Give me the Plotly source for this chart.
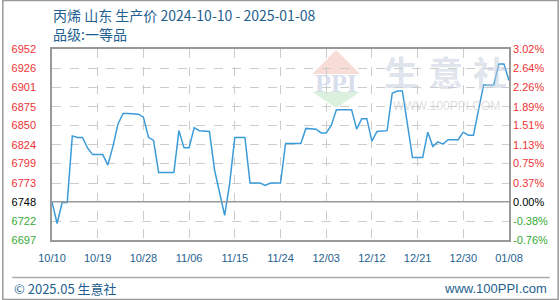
import pandas as pd
import plotly.graph_objects as go

# ---- data ----
start_date = "2024-10-10"
end_date = "2025-01-08"
prices = [
    6748, 6719, 6747, 6747, 6836, 6834, 6834, 6820, 6811, 6811,
    6811, 6797, 6822, 6852, 6866, 6866, 6866, 6865, 6861, 6834,
    6830, 6787, 6787, 6787, 6787, 6843, 6820, 6820, 6847, 6843,
    6843, 6842, 6791, 6760, 6730, 6773, 6834, 6834, 6834, 6773,
    6773, 6773, 6770, 6773, 6773, 6773, 6826, 6826, 6826, 6826,
    6846, 6846, 6845, 6840, 6840, 6850, 6871, 6871, 6871, 6871,
    6845, 6859, 6859, 6829, 6842, 6843, 6843, 6893, 6896, 6896,
    6854, 6807, 6807, 6807, 6841, 6822, 6828, 6825, 6831, 6831,
    6831, 6841, 6837, 6837, 6870, 6904, 6904, 6904, 6932, 6932,
    6910,
]
dates = pd.date_range(start_date, end_date, freq="D")
base_price = 6748
left_labels = ["6952", "6926", "6901", "6875", "6850", "6824", "6799", "6773", "6748", "6722", "6697"]
right_labels = ["3.02%", "2.64%", "2.26%", "1.89%", "1.51%", "1.13%", "0.75%", "0.37%", "0.00%", "-0.38%", "-0.76%"]
title_line1 = "丙烯 山东 生产价 2024-10-10 - 2025-01-08"
title_line2 = "品级:一等品"
footer_left = "© 2025.05 生意社"
footer_right = "www.100PPI.com"
watermark_chars = ["生", "意", "社"]
watermark_url = "WWW.100PPI.COM"
watermark_logo = "PPI"

# ---- styling ----
W, H = 560, 300
L, R, T, B = 50, 510, 49, 240
RED, GREEN, BLACK = "#ee3333", "#33aa33", "#000000"
BLUE_TXT = "#1f5f8f"
LINE = "#3b9bd8"


def px(x):
    return (x - L) / (R - L)


def py(y):
    return (B - y) / (B - T)


def colored(labels, vals):
    out = []
    for lab, v in zip(labels, vals):
        c = RED if v > base_price else (BLACK if v == base_price else GREEN)
        out.append(f'<span style="color:{c}">{lab}</span>')
    return out


tick_vals = [float(t) for t in left_labels]

fig = go.Figure()
fig.add_trace(go.Scatter(x=dates, y=prices, mode="lines",
                         line=dict(color=LINE, width=1.5), hoverinfo="skip",
                         showlegend=False))
fig.add_trace(go.Scatter(x=dates, y=prices, mode="lines", yaxis="y2",
                         line=dict(color="rgba(0,0,0,0)", width=0), hoverinfo="skip",
                         showlegend=False))

font_num = "Liberation Sans, Arial, sans-serif"
fig.update_layout(
    width=W, height=H,
    margin=dict(l=L, r=W - R, t=T, b=H - B),
    paper_bgcolor="white", plot_bgcolor="white",
    xaxis=dict(
        type="date",
        range=[dates[0], dates[-1]],
        tick0=dates[0], dtick=9 * 86400000, tickformat="%m/%d",
        showgrid=True, gridcolor="#cccccc", griddash="dash", gridwidth=1,
        showline=True, mirror=True, linecolor="#999999", linewidth=1.5,
        ticks="", ticklabelstandoff=7,
        tickfont=dict(family=font_num, size=11, color=BLUE_TXT),
        zeroline=False, fixedrange=True,
    ),
    yaxis=dict(
        range=[6697, 6952],
        tickvals=tick_vals, ticktext=colored(left_labels, tick_vals),
        showgrid=True, gridcolor="#cccccc", griddash="dash", gridwidth=1,
        showline=True, mirror=True, linecolor="#999999", linewidth=1.5,
        ticks="", ticklabelstandoff=12,
        tickfont=dict(family=font_num, size=11, color=RED),
        zeroline=False,
    ),
    yaxis2=dict(
        range=[6697, 6952], overlaying="y", side="right",
        tickvals=tick_vals, ticktext=colored(right_labels, tick_vals),
        showgrid=False, showline=False, ticks="", ticklabelstandoff=3,
        tickfont=dict(family=font_num, size=11, color=RED),
        zeroline=False,
    ),
)

shapes = []
# baseline at base price
shapes.append(dict(type="line", xref="paper", yref="y", x0=0, x1=1, y0=base_price, y1=base_price,
                   line=dict(color="#999999", width=1.5), layer="above"))
# footer separator
shapes.append(dict(type="line", xref="paper", yref="paper", x0=px(10), x1=px(551), y0=py(277.5), y1=py(277.5),
                   line=dict(color="#aaaaaa", width=1.5)))
# outer frame
shapes.append(dict(type="rect", xref="paper", yref="paper", x0=px(0.5), x1=px(559.5), y0=py(299.5), y1=py(0.5),
                   line=dict(color="#999999", width=1.5)))
# watermark logo triangles
shapes.append(dict(type="path", xref="paper", yref="paper", layer="below",
                   path=f"M {px(312)} {py(74)} L {px(336)} {py(50)} L {px(360)} {py(74)} Z",
                   fillcolor="#f8dcd6", line=dict(width=0)))
shapes.append(dict(type="path", xref="paper", yref="paper", layer="below",
                   path=f"M {px(312)} {py(92)} L {px(336)} {py(108)} L {px(360)} {py(92)} Z",
                   fillcolor="#dcf0de", line=dict(width=0)))
fig.update_layout(shapes=shapes)

cjk = "Noto Sans CJK SC, sans-serif"
ann = []
ann.append(dict(text=title_line1, xref="paper", yref="paper", x=px(49), y=py(15),
                xanchor="left", yanchor="middle", showarrow=False,
                font=dict(family=cjk, size=14, color=BLUE_TXT)))
ann.append(dict(text=title_line2, xref="paper", yref="paper", x=px(49), y=py(34),
                xanchor="left", yanchor="middle", showarrow=False,
                font=dict(family=cjk, size=14, color=BLUE_TXT)))
ann.append(dict(text=footer_left, xref="paper", yref="paper", x=px(10), y=py(288),
                xanchor="left", yanchor="middle", showarrow=False,
                font=dict(family=cjk, size=13, color=BLUE_TXT)))
ann.append(dict(text=footer_right, xref="paper", yref="paper", x=px(550), y=py(288),
                xanchor="right", yanchor="middle", showarrow=False,
                font=dict(family="Liberation Sans, sans-serif", size=13, color=BLUE_TXT)))
# watermark texts
for ch, cx in zip(watermark_chars, [401, 447, 491]):
    ann.append(dict(text=f"<b>{ch}</b>", xref="paper", yref="paper", x=px(cx), y=py(71),
                    xanchor="center", yanchor="middle", showarrow=False,
                    font=dict(family=cjk, size=34, color="rgba(195,205,222,0.55)")))
ann.append(dict(text=watermark_url, xref="paper", yref="paper", x=px(447), y=py(106),
                xanchor="center", yanchor="middle", showarrow=False,
                font=dict(family="Liberation Sans, sans-serif", size=12, color="rgba(200,200,200,0.6)")))
ann.append(dict(text=f"<b>{watermark_logo}</b>", xref="paper", yref="paper", x=px(336), y=py(83),
                xanchor="center", yanchor="middle", showarrow=False,
                font=dict(family="Liberation Serif, serif", size=26, color="rgba(190,200,220,0.6)")))
fig.update_layout(annotations=ann)

fig.write_html("out.html")
